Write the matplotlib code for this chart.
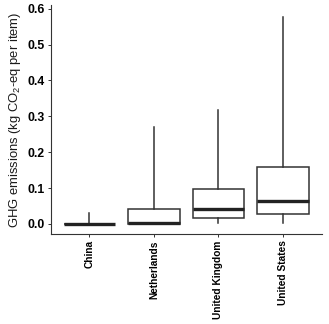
import matplotlib
matplotlib.use("Agg")
import matplotlib.pyplot as plt

plt.rcParams["font.family"] = ["Liberation Sans", "DejaVu Sans"]
plt.rcParams["mathtext.fontset"] = "custom"
plt.rcParams["mathtext.rm"] = "Liberation Sans"
plt.rcParams["mathtext.it"] = "Liberation Sans:italic"
plt.rcParams["mathtext.bf"] = "Liberation Sans:bold"

# Summary statistics per country (kg CO2-eq per item)
countries = ["China", "Netherlands", "United Kingdom", "United States"]
whisker_low = [0.000, 0.000, 0.002, 0.002]
q1 = [0.000, 0.000, 0.016, 0.027]
median = [0.000, 0.003, 0.041, 0.064]
q3 = [0.001, 0.041, 0.097, 0.160]
whisker_high = [0.030, 0.271, 0.318, 0.578]
y_ticks = [0.0, 0.1, 0.2, 0.3, 0.4, 0.5, 0.6]

stats = []
for name, lo, a, m, b, hi in zip(countries, whisker_low, q1, median, q3, whisker_high):
    stats.append({"label": name, "whislo": lo, "q1": a, "med": m, "q3": b,
                  "whishi": hi, "fliers": []})

fig = plt.figure(figsize=(3.29, 3.24), dpi=100)
ax = fig.add_axes([0.154, 0.278, 0.824, 0.707])

line_col = "#333333"
ax.bxp(stats, positions=range(1, len(countries) + 1), widths=0.8,
       showcaps=False, showfliers=False, patch_artist=True,
       boxprops=dict(facecolor="white", edgecolor=line_col, linewidth=1.1),
       whiskerprops=dict(color=line_col, linewidth=1.1),
       medianprops=dict(color="#222222", linewidth=2.4, solid_capstyle="butt"))

ax.set_xlim(0.4, 4.6)
ax.set_ylim(-0.028, 0.611)
ax.set_yticks(y_ticks)
ax.set_yticklabels([f"{v:.1f}" for v in y_ticks], fontsize=8.8, fontweight="bold",
                   color="black")
ax.set_xticks(range(1, len(countries) + 1))
ax.set_xticklabels(countries, rotation=90, fontsize=7.3, fontweight="bold",
                   color="black")

for side in ("top", "right"):
    ax.spines[side].set_visible(False)
for side in ("left", "bottom"):
    ax.spines[side].set_color("#333333")
    ax.spines[side].set_linewidth(0.8)
ax.tick_params(axis="both", length=2.5, width=0.7, color="#333333", pad=2)

ax.set_ylabel(r"GHG emissions (kg CO$_2$-eq per item)", fontsize=9.4,
              color="#1a1a1a", labelpad=3)

fig.savefig("out.png", dpi=100)
